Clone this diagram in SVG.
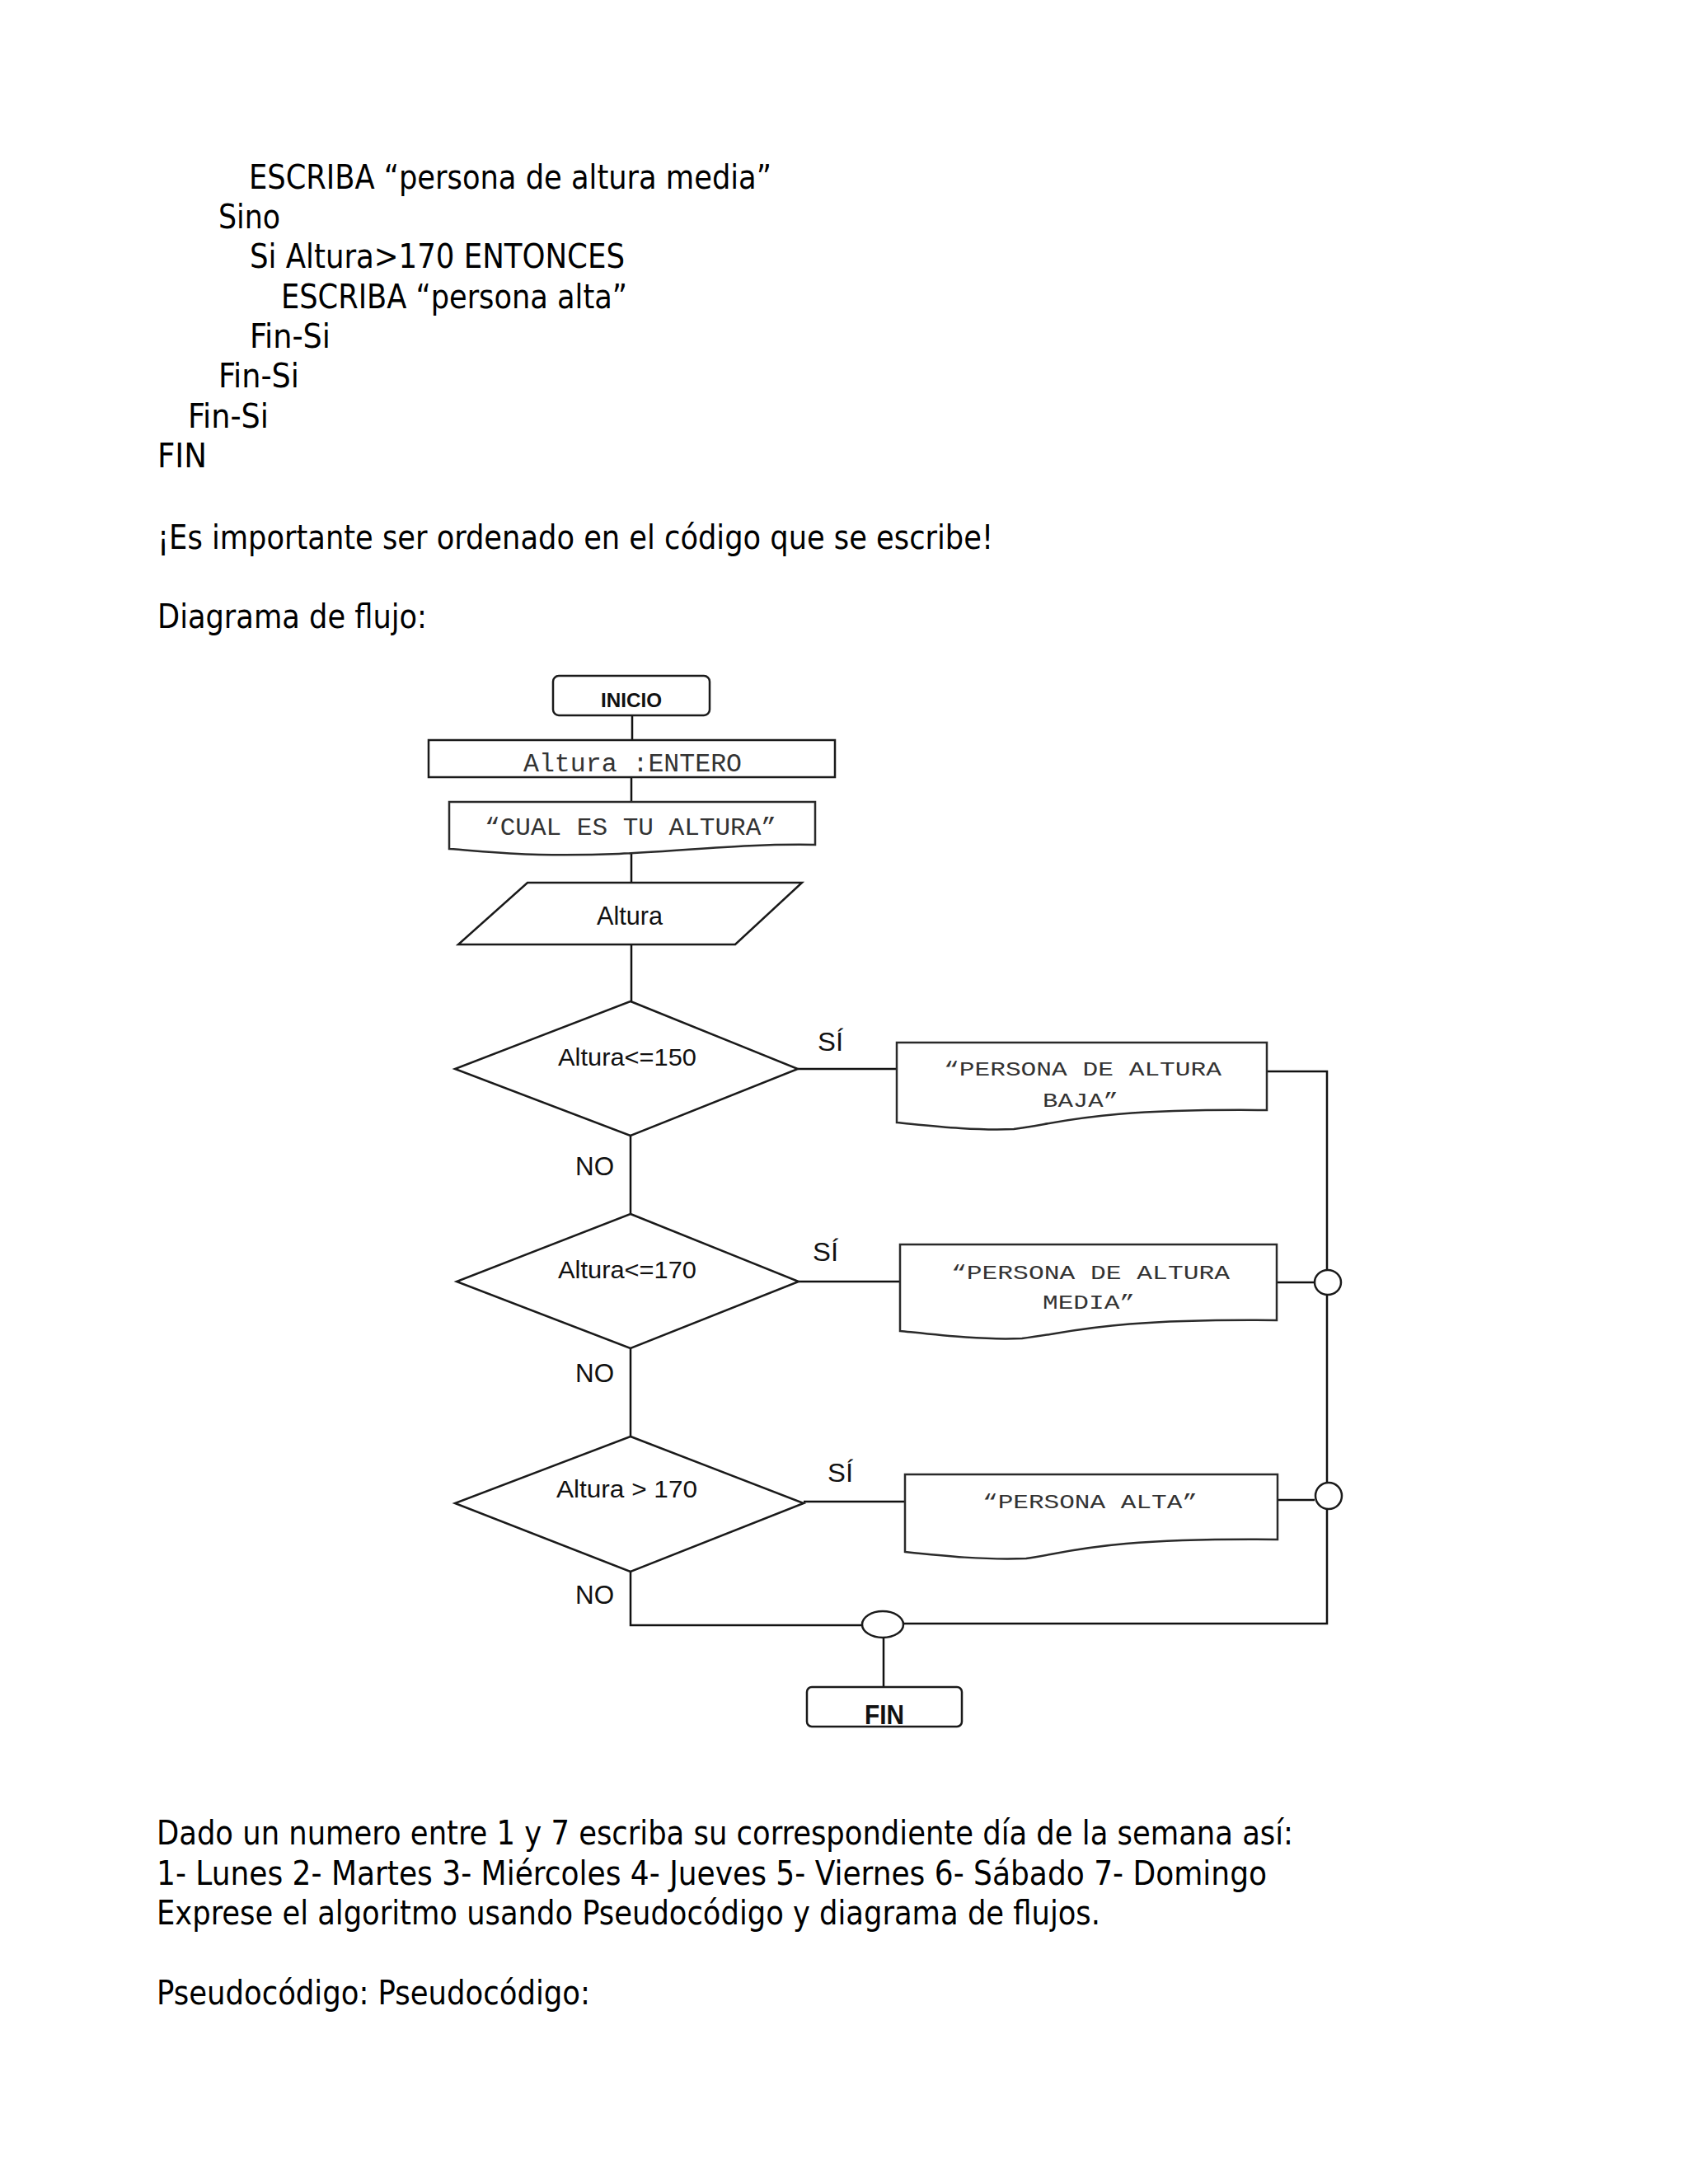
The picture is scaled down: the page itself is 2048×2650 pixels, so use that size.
<svg xmlns="http://www.w3.org/2000/svg" width="2048" height="2650" viewBox="0 0 2048 2650">
<style>
.t{font-family:"DejaVu Sans Condensed","DejaVu Sans",Tahoma,sans-serif;font-size:40px;fill:#000}
.s{fill:#fff;stroke:#1a1a1a;stroke-width:2.5}
.d{fill:#fff;stroke:#2a2a2a;stroke-width:2.5}
.ln{fill:none;stroke:#111;stroke-width:2.5}
.a{font-family:"Liberation Sans",Arial,sans-serif;fill:#111}
.m{font-family:"Liberation Mono","Courier New",monospace;fill:#333}
</style>
<rect width="2048" height="2650" fill="#fff"/>
<g id="text-top">
<text class="t" x="302" y="229" textLength="634" lengthAdjust="spacingAndGlyphs">ESCRIBA “persona de altura media”</text>
<text class="t" x="265" y="277" textLength="75" lengthAdjust="spacingAndGlyphs">Sino</text>
<text class="t" x="303" y="325" textLength="455" lengthAdjust="spacingAndGlyphs">Si Altura&gt;170 ENTONCES</text>
<text class="t" x="341" y="374" textLength="420" lengthAdjust="spacingAndGlyphs">ESCRIBA “persona alta”</text>
<text class="t" x="303" y="422" textLength="98" lengthAdjust="spacingAndGlyphs">Fin-Si</text>
<text class="t" x="265" y="470" textLength="98" lengthAdjust="spacingAndGlyphs">Fin-Si</text>
<text class="t" x="228" y="519" textLength="98" lengthAdjust="spacingAndGlyphs">Fin-Si</text>
<text class="t" x="191" y="567" textLength="60" lengthAdjust="spacingAndGlyphs">FIN</text>
<text class="t" x="191" y="666" textLength="1014" lengthAdjust="spacingAndGlyphs">¡Es importante ser ordenado en el código que se escribe!</text>
<text class="t" x="191" y="762" textLength="327" lengthAdjust="spacingAndGlyphs">Diagrama de flujo:</text>
</g>
<g id="connectors">
<path class="ln" d="M767 868 V898"/>
<path class="ln" d="M766 943 V975"/>
<path class="ln" d="M766 1035 V1071"/>
<path class="ln" d="M766 1146 V1215"/>
<path class="ln" d="M765 1378 V1473"/>
<path class="ln" d="M765 1636 V1743"/>
<path class="ln" d="M765 1907 V1972 H1047"/>
<path class="ln" d="M968 1297 H1088"/>
<path class="ln" d="M969 1555 H1092"/>
<path class="ln" d="M975 1822 H1098"/>
<path class="ln" d="M1537 1300 H1610 V1541"/>
<path class="ln" d="M1549 1556 H1595"/>
<path class="ln" d="M1610 1571 V1800"/>
<path class="ln" d="M1550 1820 H1595"/>
<path class="ln" d="M1610 1831 V1970 H1096"/>
<path class="ln" d="M1072 1987 V2047"/>
</g>
<g id="inicio">
<rect class="s" x="671" y="820" width="190" height="48" rx="7"/>
<text class="a" x="766" y="858" font-size="23" font-weight="bold" text-anchor="middle" textLength="74" lengthAdjust="spacingAndGlyphs">INICIO</text>
</g>
<g id="declaracion">
<rect class="s" x="520" y="898" width="493" height="45"/>
<text class="m" x="635" y="936" font-size="31" textLength="265" lengthAdjust="spacingAndGlyphs">Altura :ENTERO</text>
</g>
<g id="pregunta">
<path class="d" d="M545 973 H989 V1025 C870 1023 790 1040 654 1037 C610 1036 575 1032 545 1030 Z"/>
<text class="m" x="588" y="1013" font-size="30" textLength="354" lengthAdjust="spacingAndGlyphs">“CUAL ES TU ALTURA”</text>
</g>
<g id="lectura">
<polygon class="s" points="640,1071 973,1071 892,1146 556,1146"/>
<text class="a" x="764" y="1122" font-size="32" text-anchor="middle" textLength="80" lengthAdjust="spacingAndGlyphs">Altura</text>
</g>
<g id="decision1">
<polygon class="s" points="765,1215 968,1297 765,1378 552,1297"/>
<text class="a" x="677" y="1293" font-size="30" textLength="168" lengthAdjust="spacingAndGlyphs">Altura&lt;=150</text>
<text class="a" x="992" y="1275" font-size="31" textLength="31" lengthAdjust="spacingAndGlyphs">SÍ</text>
<text class="a" x="698" y="1426" font-size="32" textLength="47" lengthAdjust="spacingAndGlyphs">NO</text>
</g>
<g id="baja">
<path class="d" d="M1088 1265 H1537 V1347 C1330 1345 1290 1362 1230 1370 C1180 1372 1130 1366 1088 1362 Z"/>
<text class="m" x="1145" y="1305" font-size="24" textLength="337" lengthAdjust="spacingAndGlyphs">“PERSONA DE ALTURA</text>
<text class="m" x="1265" y="1343" font-size="24" textLength="92" lengthAdjust="spacingAndGlyphs">BAJA”</text>
</g>
<g id="decision2">
<polygon class="s" points="765,1473 969,1555 765,1636 554,1555"/>
<text class="a" x="677" y="1551" font-size="30" textLength="168" lengthAdjust="spacingAndGlyphs">Altura&lt;=170</text>
<text class="a" x="986" y="1530" font-size="31" textLength="31" lengthAdjust="spacingAndGlyphs">SÍ</text>
<text class="a" x="698" y="1677" font-size="32" textLength="47" lengthAdjust="spacingAndGlyphs">NO</text>
</g>
<g id="media">
<path class="d" d="M1092 1510 H1549 V1602 C1340 1600 1300 1617 1240 1624 C1190 1626 1140 1620 1092 1615 Z"/>
<text class="m" x="1154" y="1552" font-size="24" textLength="338" lengthAdjust="spacingAndGlyphs">“PERSONA DE ALTURA</text>
<text class="m" x="1265" y="1588" font-size="24" textLength="112" lengthAdjust="spacingAndGlyphs">MEDIA”</text>
</g>
<g id="decision3">
<polygon class="s" points="765,1743 975,1824 765,1907 552,1824"/>
<text class="a" x="675" y="1817" font-size="30" textLength="171" lengthAdjust="spacingAndGlyphs">Altura &gt; 170</text>
<text class="a" x="1004" y="1798" font-size="31" textLength="31" lengthAdjust="spacingAndGlyphs">SÍ</text>
<text class="a" x="698" y="1946" font-size="32" textLength="47" lengthAdjust="spacingAndGlyphs">NO</text>
</g>
<g id="alta">
<path class="d" d="M1098 1789 H1550 V1868 C1340 1866 1300 1883 1245 1891 C1195 1893 1145 1888 1098 1883 Z"/>
<text class="m" x="1192" y="1830" font-size="24" textLength="261" lengthAdjust="spacingAndGlyphs">“PERSONA ALTA”</text>
</g>
<g id="union1"><ellipse class="s" cx="1611" cy="1556" rx="16" ry="15"/></g>
<g id="union2"><ellipse class="s" cx="1612" cy="1815" rx="16" ry="16"/></g>
<g id="union3"><ellipse class="s" cx="1071" cy="1971" rx="25" ry="16"/></g>
<g id="fin">
<rect class="s" x="979" y="2047" width="188" height="48" rx="6"/>
<text class="a" x="1073" y="2092" font-size="33" font-weight="bold" text-anchor="middle" textLength="48" lengthAdjust="spacingAndGlyphs">FIN</text>
</g>
<g id="text-bottom">
<text class="t" x="190" y="2238" textLength="1379" lengthAdjust="spacingAndGlyphs">Dado un numero entre 1 y 7 escriba su correspondiente día de la semana así:</text>
<text class="t" x="190" y="2287" textLength="1347" lengthAdjust="spacingAndGlyphs">1- Lunes 2- Martes 3- Miércoles 4- Jueves 5- Viernes 6- Sábado 7- Domingo</text>
<text class="t" x="190" y="2335" textLength="1145" lengthAdjust="spacingAndGlyphs">Exprese el algoritmo usando Pseudocódigo y diagrama de flujos.</text>
<text class="t" x="190" y="2432" textLength="526" lengthAdjust="spacingAndGlyphs">Pseudocódigo: Pseudocódigo:</text>
</g>
</svg>
